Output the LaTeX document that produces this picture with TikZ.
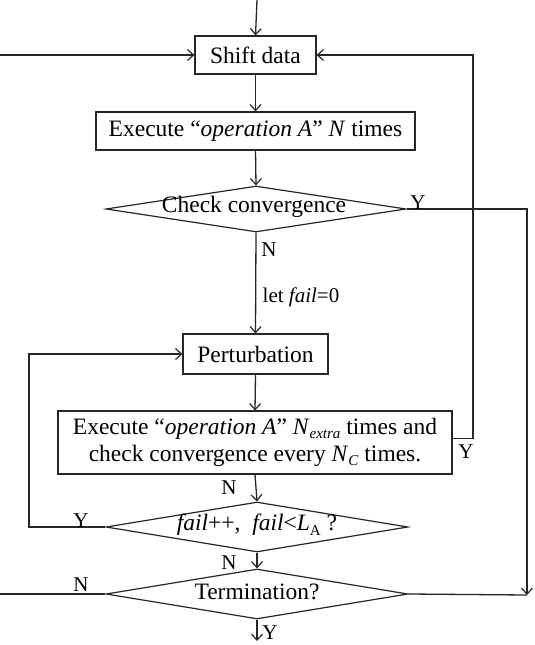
\documentclass[tikz,border=0pt]{standalone}
\usepackage{fontspec}
\setmainfont{Liberation Serif}
\usetikzlibrary{arrows.meta,shapes.geometric}
\newcommand{\sbs}[1]{\raisebox{-0.4ex}{\fontsize{15}{15}\selectfont #1}}
\tikzset{
  line/.style={line width=1.3pt, draw=black!85},
  arr/.style={line, -{Straight Barb[length=6pt,width=11pt,line width=1.2pt]}},
  box/.style={draw=black!85, line width=1.2pt, rectangle, inner sep=0pt, align=center,
    font=\fontsize{23.5}{27}\selectfont},
  dia/.style={draw=black!85, line width=1.2pt, diamond, inner sep=0pt, shape aspect=1},
  dtext/.style={inner sep=0pt, font=\fontsize{23.5}{27}\selectfont},
  lab/.style={inner sep=0pt, font=\fontsize{21}{24}\selectfont}
}
\begin{document}
\begin{tikzpicture}[x=1pt,y=-1pt]
\useasboundingbox (0,0) rectangle (535,645);
\node[box, minimum width=121pt, minimum height=38pt] (S) at (255.5,55) {Shift data};
\node[box, minimum width=319pt, minimum height=38pt] (E1) at (255.5,131) {Execute “\textit{operation A}” \textit{N} times};
\node[dia, minimum width=300pt, minimum height=46pt] (C) at (256,209) {};
\node[dtext] (Ct) at (254,207) {Check convergence};
\node[box, minimum width=145pt, minimum height=40pt] (P) at (255.5,354) {Perturbation};
\node[box, minimum width=394pt, minimum height=63pt] (E2) at (255,442.5) {Execute “\textit{operation A}” \textit{N}\sbs{\textit{extra}} times and\\check convergence every \textit{N}\sbs{\textit{C}} times.};
\node[dia, minimum width=302pt, minimum height=50pt] (F) at (257,527) {};
\node[dtext] (Ft) at (257,525) {\textit{fail}++,\ \ \textit{fail}<\textit{L}\sbs{A} ?};
\node[dia, minimum width=302pt, minimum height=50pt] (T) at (257,594) {};
\node[dtext] (Tt) at (257,592) {Termination?};

\coordinate (top) at (257,0);
\coordinate (lin) at (0,55);
\coordinate (rc) at (473,55);
\coordinate (rc2) at (527,209);
\coordinate (rb) at (527,595);
\coordinate (lp) at (29,527);
\coordinate (lout) at (0,594);
\coordinate (bot) at (257,641);

\draw[arr] (top) -- (S.north);
\draw[arr] (lin) -- (S.west);
\draw[arr] (S.south) -- (E1.north);
\draw[arr] (E1.south) -- (C.north);
\draw[arr] (C.south) -- (P.north);
\draw[arr] (P.south) -- (E2.north);
\draw[arr] (E2.south) -- (F.north);
\draw[arr] (F.south) -- (T.north);
\draw[arr] (T.south) -- (bot);
\draw[arr] (F.west) -- (lp) |- (P.west);
\draw[line] (T.west) -- (lout);
\draw[arr] ([yshift=4pt]E2.east) -| (rc) -- (S.east);
\draw[arr] (C.east) -- (rc2) -- (rb);
\draw[line] (T.east) -- (rb);

\node[lab] (l1) at (418,203) {Y};
\node[lab] (l2) at (269,250) {N};
\node[lab] (l3) at (301,297) {let \textit{fail}=0};
\node[lab] (l4) at (466,452) {Y};
\node[lab] (l5) at (229,488) {N};
\node[lab] (l6) at (81,521) {Y};
\node[lab] (l7) at (229,563) {N};
\node[lab] (l8) at (81,585) {N};
\node[lab] (l9) at (270,633) {Y};
\end{tikzpicture}
\end{document}
